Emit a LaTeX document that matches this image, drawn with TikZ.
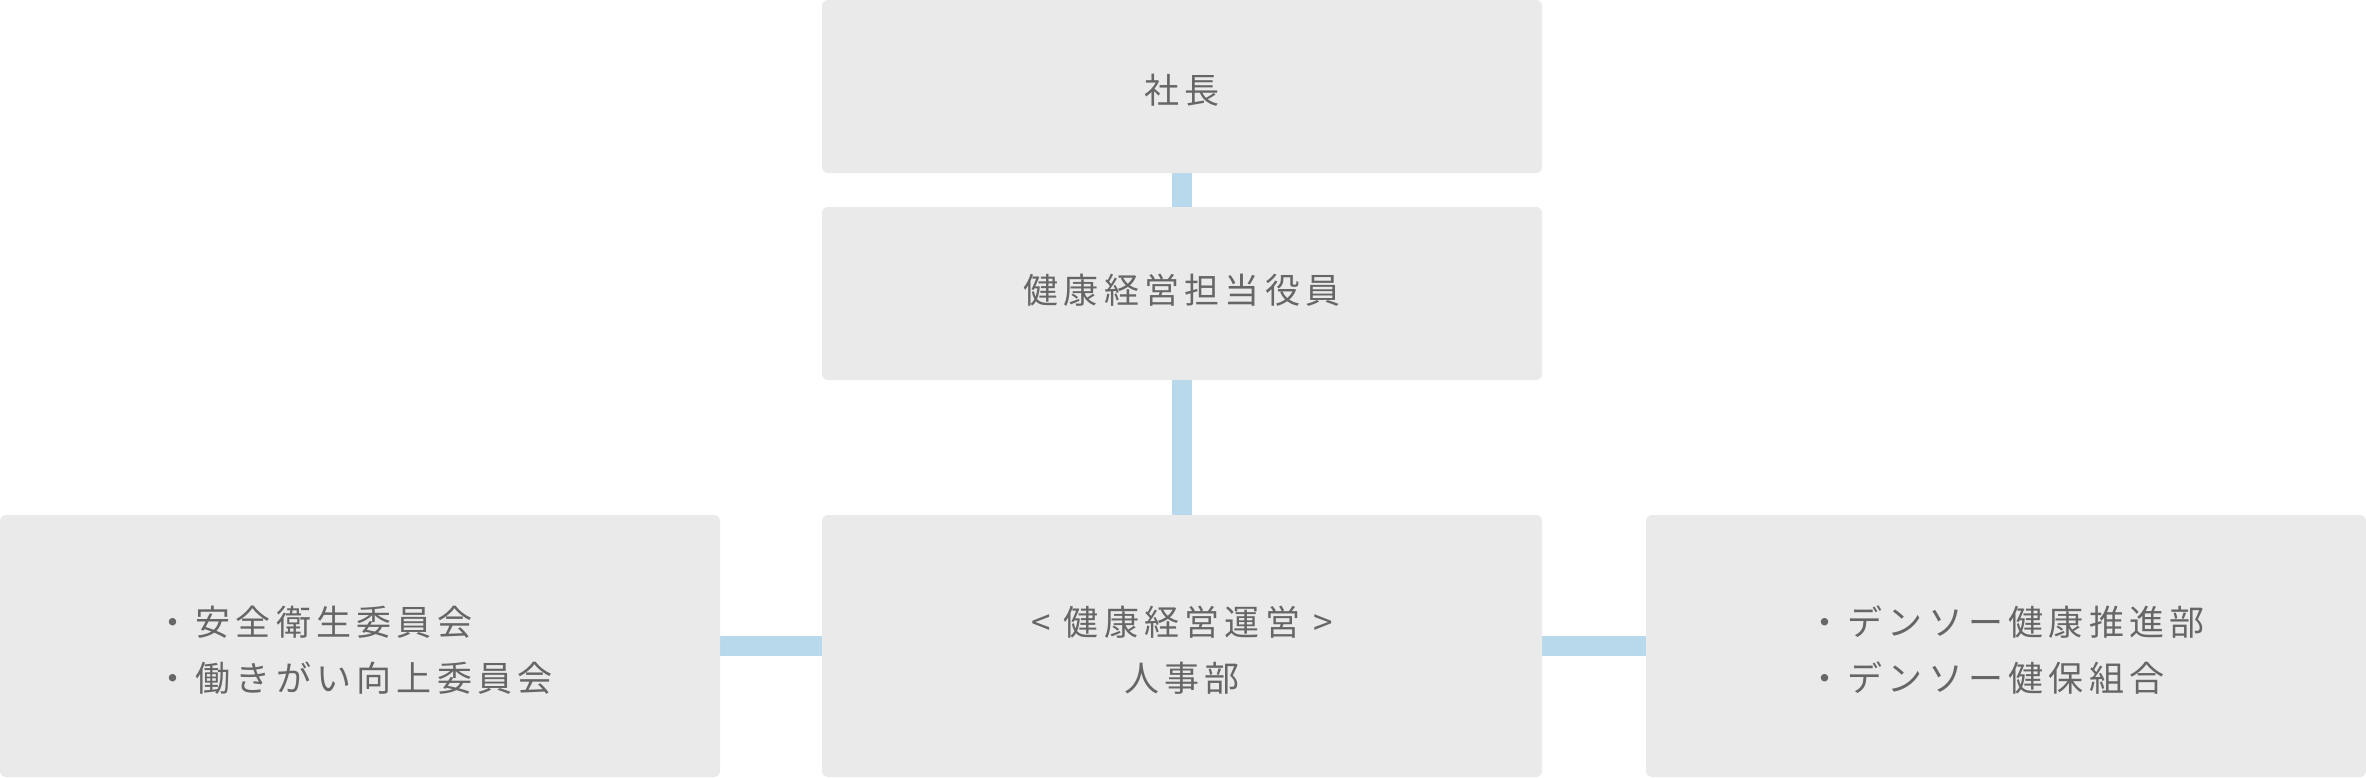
\documentclass[tikz,border=0pt]{standalone}
\usepackage{fontspec}
\setmainfont{Noto Sans CJK JP}[LetterSpace=15]
\usetikzlibrary{backgrounds}
\definecolor{boxfill}{HTML}{EAEAEA}
\definecolor{linkblue}{HTML}{B8D8EB}
\definecolor{txt}{HTML}{666666}
\tikzset{
  orgbox/.style={rectangle, fill=boxfill, rounded corners=6pt, inner sep=0pt, outer sep=0pt,
    minimum width=720pt},
  orgtext/.style={inner sep=0pt, text=txt, font=\fontsize{35}{56}\selectfont},
  link/.style={linkblue, line width=20pt, line cap=butt}
}
\begin{document}
\begin{tikzpicture}[x=1pt,y=1pt]
\useasboundingbox (0,0) rectangle (2366,-777);
\node[orgbox, minimum height=173pt] (ceo) at (1182,-86.5) {};
\node[orgbox, minimum height=173pt] (exec) at (1182,-293.5) {};
\node[orgbox, minimum height=262pt] (hr) at (1182,-646) {};
\node[orgbox, minimum height=262pt] (left) at (360,-646) {};
\node[orgbox, minimum height=262pt] (right) at (2006,-646) {};
\node[orgtext] (ceoT) at ([yshift=-3.5pt]ceo.center) {社長};
\node[orgtext] (execT) at ([yshift=3pt]exec.center) {健康経営担当役員};
\node[orgtext, align=center] (hrT) at ([yshift=-4pt]hr.center) {< 健康経営運営 >\\人事部};
\node[orgtext, align=left] (leftT) at ([xshift=-6pt,yshift=-4pt]left.center) {・安全衛生委員会\\・働きがい向上委員会};
\node[orgtext, align=left] (rightT) at ([yshift=-4pt]right.center) {・デンソー健康推進部\\・デンソー健保組合};
\begin{scope}[on background layer]
\draw[link] (ceo.south) -- (exec.north);
\draw[link] (exec.south) -- (hr.north);
\draw[link] (left.east) -- (hr.west);
\draw[link] (hr.east) -- (right.west);
\end{scope}
\end{tikzpicture}
\end{document}
